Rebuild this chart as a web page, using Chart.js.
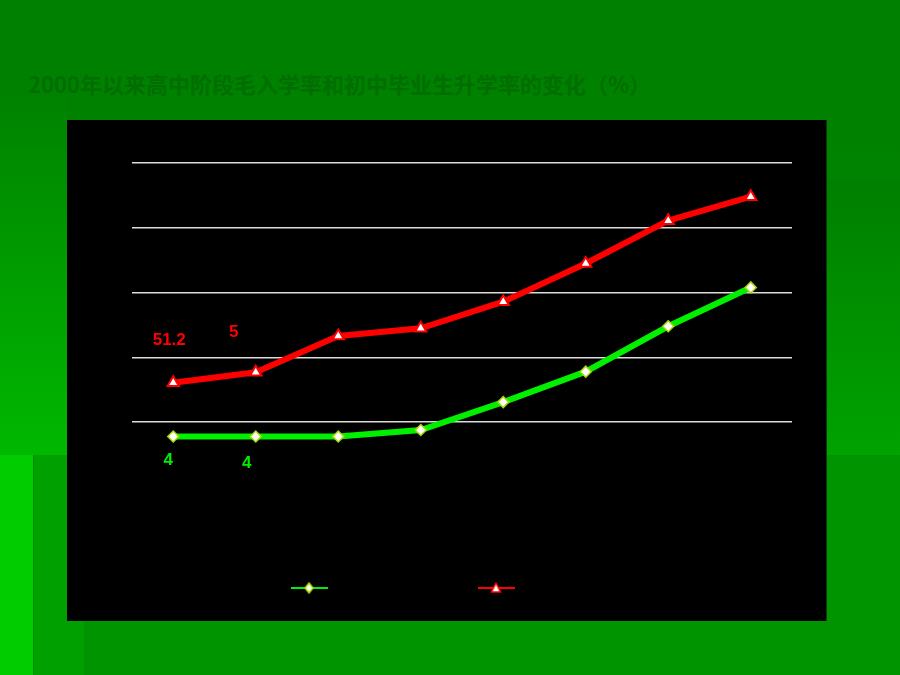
<!DOCTYPE html>
<html>
<head>
<meta charset="utf-8">
<script src="https://cdn.jsdelivr.net/npm/chart.js@4.4.1/dist/chart.umd.min.js"></script>
<style>
body { margin: 0; }
#slide { position: relative; width: 900px; height: 675px; overflow: hidden;
  background: linear-gradient(#008000 0px, #008000 60px, #008b00 455px); }
.deco { position: absolute; }
#title { position: absolute; left: 28px; top: 72px; font-family: "Noto Sans CJK SC"; font-size: 22px;
  line-height: 22px; font-weight: bold; color: #006e00; white-space: nowrap; }
#box { position: absolute; left: 67px; top: 120px; width: 759px; height: 501px; background: #000;
  box-shadow: 1px 0 0 #0b3d0b; }
</style>
</head>
<body>
<div id="slide">
  <div class="deco" style="left:0;top:0;width:67px;height:455px;background:linear-gradient(#008000 80px,#00b800 455px)"></div>
  <div class="deco" style="left:826px;top:180px;width:74px;height:275px;background:linear-gradient(#007f00,#00a300)"></div>
  <div class="deco" style="left:0;top:455px;width:900px;height:220px;background:#009400"></div>
  <div class="deco" style="left:33px;top:455px;width:50px;height:220px;background:#00a000;border-left:1px solid #008c00"></div>
  <div class="deco" style="left:0;top:455px;width:33px;height:220px;background:#00cc00"></div>
  <div id="title">2000年以来高中阶段毛入学率和初中毕业生升学率的变化（%）</div>
  <div id="box"><canvas id="myChart" width="759" height="501"></canvas></div>
</div>
<script>
// data
var years = ['2000', '2001', '2002', '2003', '2004', '2005', '2006', '2007'];
var seriesNames = ['高中阶段毛入学率', '初中毕业生升学率'];
var grossRate = [42.8, 42.8, 42.8, 43.8, 48.1, 52.8, 59.8, 65.8];
var promoteRate = [51.1, 52.7, 58.3, 59.5, 63.6, 69.5, 76.1, 79.8];
var yTicks = [35, 45, 55, 65, 75, 85];
// the few data labels that show in the picture
var pointLabels = [['4', '4'], ['51.2', '5']];

var labelColors = ['#00ee00', '#ff0000'];
var labelShift = [[[-5, 24], [-9, 27]], [[-4, -42], [-22, -40]]];

function legendIcon(kind) {
  var c = document.createElement('canvas');
  c.width = 37; c.height = 12;
  var g = c.getContext('2d');
  g.lineWidth = 2;
  g.strokeStyle = kind == 0 ? '#00f000' : '#ff0000';
  g.beginPath(); g.moveTo(0, 6); g.lineTo(37, 6); g.stroke();
  g.fillStyle = '#fff';
  g.beginPath();
  if (kind == 0) {
    g.moveTo(18.5, 1); g.lineTo(22.5, 6); g.lineTo(18.5, 11); g.lineTo(14.5, 6); g.closePath();
    g.fill(); g.lineWidth = 1.5; g.strokeStyle = '#a8d800'; g.stroke();
  } else {
    g.moveTo(18.5, 1); g.lineTo(23, 10); g.lineTo(14, 10); g.closePath();
    g.fill(); g.lineWidth = 1.5; g.strokeStyle = '#ff0000'; g.stroke();
  }
  return c;
}
var icons = [legendIcon(0), legendIcon(1)];

var labelPlugin = {
  id: 'pointLabels',
  afterDatasetsDraw: function (chart) {
    var ctx = chart.ctx;
    ctx.save();
    ctx.font = 'bold 17px "Liberation Sans"';
    ctx.textAlign = 'center';
    ctx.textBaseline = 'middle';
    pointLabels.forEach(function (set, d) {
      var meta = chart.getDatasetMeta(d);
      set.forEach(function (txt, i) {
        var el = meta.data[i];
        ctx.fillStyle = labelColors[d];
        ctx.fillText(txt, el.x + labelShift[d][i][0], el.y + labelShift[d][i][1]);
      });
    });
    ctx.restore();
  }
};

var chart = new Chart('myChart', {
  type: 'line',
  data: {
    labels: years,
    datasets: [{
      label: seriesNames[0],
      data: grossRate,
      borderColor: '#00f000',
      borderWidth: 6,
      tension: 0,
      pointStyle: 'rectRot',
      pointRadius: 5.5,
      pointBackgroundColor: '#ffffff',
      pointBorderColor: '#a8d800',
      pointBorderWidth: 1.5
    }, {
      label: seriesNames[1],
      data: promoteRate,
      borderColor: '#ff0000',
      borderWidth: 6,
      tension: 0,
      pointStyle: 'triangle',
      pointRadius: 6.5,
      pointBackgroundColor: '#ffffff',
      pointBorderColor: '#ff0000',
      pointBorderWidth: 2
    }]
  },
  options: {
    responsive: false,
    animation: false,
    devicePixelRatio: 1,
    layout: { padding: { left: 65, right: 34, top: 43, bottom: 16 } },
    scales: {
      x: {
        offset: true,
        grid: { display: false, drawTicks: false },
        border: { display: false },
        ticks: { color: '#000', padding: 12, font: { size: 12 } },
        afterFit: function (scale) { scale.height = 74; }
      },
      y: {
        min: yTicks[0],
        max: yTicks[yTicks.length - 1],
        afterBuildTicks: function (scale) { scale.ticks = yTicks.map(function (v) { return { value: v }; }); },
        ticks: { display: false },
        border: { display: false },
        grid: {
          drawTicks: false,
          lineWidth: 1.5,
          color: function (c) { return c.tick && c.tick.value == yTicks[0] ? 'rgba(0,0,0,0)' : '#dcdcdc'; }
        }
      }
    },
    plugins: {
      tooltip: { enabled: false },
      legend: {
        position: 'bottom',
        labels: {
          usePointStyle: true,
          pointStyleWidth: 48,
          padding: 20,
          color: '#000',
          font: { family: 'Noto Sans CJK SC', size: 14 },
          generateLabels: function (chart) {
            var items = Chart.defaults.plugins.legend.labels.generateLabels(chart);
            items.forEach(function (it, i) { it.pointStyle = icons[i]; it.fontColor = '#000'; });
            return items;
          }
        }
      }
    }
  },
  plugins: [labelPlugin]
});
</script>
</body>
</html>
